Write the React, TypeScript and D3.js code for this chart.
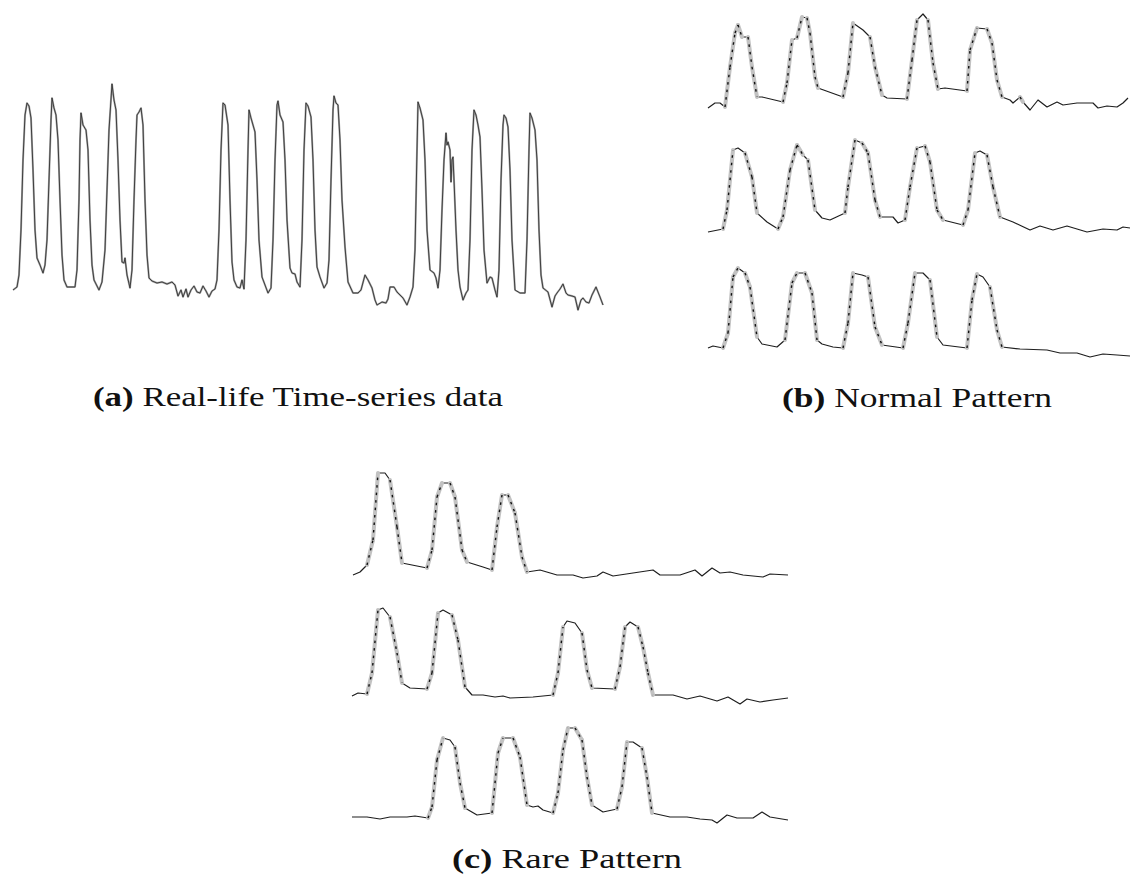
import React from "react";
import * as d3 from "d3";

type Pt = [number, number];

// (a) Real-life series: [time step, level]
const realLife: Pt[] = [
  [1,10],[5,13],[7,25],[9,70],[11,140],[13,185],[15,197],[17,194],[19,182],[21,130],[23,70],[25,42],[28,35],[31,27],[33,35],[35,60],[37,120],[39,180],[40,202],[42,192],[44,185],[46,160],[48,100],[50,45],[52,20],[55,13],[63,13],[65,30],[67,100],[68,160],[69,187],[71,175],[74,170],[76,150],[78,80],[80,35],[82,20],[87,10],[90,18],[93,50],[95,110],[97,170],[100,216],[102,200],[104,190],[106,140],[108,80],[110,38],[112,37],[113,42],[115,25],[118,12],[120,30],[122,100],[124,160],[125,185],[127,188],[129,192],[131,175],[133,100],[135,45],[137,22],[140,19],[145,17],[150,18],[155,16],[160,18],[163,15],[166,4],[169,10],[171,3],[174,11],[176,3],[179,10],[182,14],[185,8],[188,7],[191,14],[194,9],[197,3],[200,9],[203,11],[205,20],[207,70],[209,150],[211,197],[213,195],[216,175],[218,100],[220,38],[222,20],[225,13],[228,12],[230,20],[232,11],[234,60],[236,150],[237,190],[239,182],[241,175],[243,168],[245,120],[247,60],[250,23],[253,15],[256,7],[259,12],[261,60],[263,140],[265,195],[266,199],[268,185],[271,178],[273,140],[275,80],[278,32],[280,27],[283,26],[285,18],[288,13],[290,60],[292,150],[294,197],[296,194],[299,183],[301,140],[303,70],[305,33],[308,23],[312,12],[315,17],[317,40],[319,120],[321,190],[322,204],[324,197],[326,195],[328,160],[330,100],[333,53],[336,18],[341,7],[346,7],[349,10],[353,25],[356,20],[360,12],[363,0],[365,-5],[370,-2],[374,-3],[376,1],[378,13],[382,13],[385,8],[388,5],[391,2],[395,-5],[398,3],[401,13],[403,50],[405,150],[406,198],[408,192],[411,180],[413,140],[415,70],[418,30],[422,27],[424,22],[426,12],[428,30],[430,90],[432,140],[434,167],[435,155],[436,158],[438,150],[439,118],[440,140],[441,143],[442,120],[444,70],[446,30],[448,13],[451,0],[454,7],[456,10],[458,60],[460,150],[462,190],[464,185],[466,175],[468,163],[470,110],[472,50],[475,17],[478,23],[480,22],[483,10],[485,3],[487,30],[489,120],[491,175],[492,185],[494,182],[496,173],[498,130],[500,60],[503,10],[508,7],[513,7],[515,60],[517,150],[518,187],[520,182],[523,170],[525,140],[527,70],[529,25],[531,12],[536,8],[540,-7],[543,4],[545,7],[548,11],[551,16],[554,7],[556,5],[560,4],[563,3],[566,-10],[569,0],[571,2],[574,-2],[577,-3],[580,5],[584,13],[588,3],[591,-5],
];

// (b) Normal patterns
const normal1: Pt[] = [
  [0,2],[7,7],[12,7],[17,3],[22,43],[27,77],[30,85],[34,73],[40,73],[44,43],[49,13],[54,13],[75,8],[79,27],[84,70],[89,72],[94,93],[99,92],[102,77],[107,33],[110,22],[135,13],[140,37],[145,87],[155,80],[162,73],[167,43],[174,15],[179,12],[199,11],[204,50],[209,90],[215,96],[220,90],[225,47],[230,21],[237,22],[259,19],[262,60],[269,82],[279,81],[284,67],[289,30],[294,13],[302,10],[305,7],[312,13],[315,8],[322,0],[330,10],[339,3],[349,8],[355,5],[369,7],[385,7],[390,2],[399,4],[409,3],[415,7],[420,12],
];
const normal2: Pt[] = [
  [0,3],[15,6],[19,25],[25,85],[30,87],[37,82],[44,58],[49,22],[59,13],[70,6],[75,18],[82,65],[89,90],[95,80],[100,75],[107,25],[114,17],[122,15],[137,22],[140,48],[147,95],[154,92],[160,82],[167,35],[172,18],[185,18],[190,12],[197,15],[202,48],[209,87],[217,89],[222,73],[229,25],[235,15],[255,10],[260,25],[267,82],[272,84],[279,80],[285,48],[292,18],[305,13],[322,5],[332,9],[345,5],[359,9],[379,3],[395,6],[409,5],[415,8],[422,7],
];
const normal3: Pt[] = [
  [0,12],[5,14],[15,12],[20,27],[25,83],[30,92],[37,87],[42,73],[49,23],[54,16],[69,13],[77,20],[84,77],[89,87],[97,87],[104,67],[109,20],[114,16],[125,13],[135,12],[140,37],[145,87],[154,85],[160,83],[167,33],[174,15],[195,12],[200,37],[207,87],[215,87],[222,80],[229,23],[235,15],[259,12],[264,60],[269,86],[275,83],[282,73],[289,30],[294,13],[312,11],[339,10],[352,7],[369,7],[382,3],[395,6],[409,5],[422,4],
];

// (c) Rare patterns
const rare1: Pt[] = [
  [1,5],[8,8],[15,15],[21,40],[26,107],[33,107],[38,100],[45,53],[50,17],[75,12],[80,30],[85,83],[90,97],[98,97],[103,83],[110,30],[115,18],[131,13],[140,10],[145,53],[150,85],[156,85],[163,67],[170,23],[175,8],[188,10],[205,5],[221,5],[231,2],[245,4],[251,8],[261,4],[281,7],[301,10],[308,5],[328,5],[343,10],[350,4],[360,12],[368,7],[378,8],[391,5],[411,3],[418,6],[436,5],
];
const rare2: Pt[] = [
  [0,9],[6,12],[15,11],[20,32],[26,95],[31,97],[38,88],[45,52],[50,22],[58,17],[75,16],[80,32],[86,92],[91,95],[100,90],[106,65],[113,18],[120,10],[131,10],[143,8],[151,9],[158,7],[181,8],[201,10],[206,32],[211,78],[215,84],[223,82],[230,72],[235,35],[240,17],[263,16],[268,38],[273,78],[278,83],[286,78],[291,58],[296,32],[301,10],[321,10],[335,6],[348,9],[365,4],[376,8],[388,1],[395,6],[408,3],[421,5],[436,7],
];
const rare3: Pt[] = [
  [0,8],[15,8],[28,6],[38,8],[55,8],[63,9],[76,7],[80,18],[85,65],[91,87],[98,85],[103,78],[108,42],[113,17],[125,10],[140,12],[146,72],[151,87],[161,87],[168,68],[175,20],[181,18],[186,19],[191,15],[201,12],[206,32],[211,75],[216,97],[223,97],[230,85],[235,48],[240,20],[251,13],[265,16],[270,38],[275,83],[281,83],[290,77],[295,48],[300,12],[318,8],[335,8],[348,6],[360,5],[365,2],[375,10],[385,7],[401,7],[410,13],[418,8],[436,5],
];

const captions = [
  { tag: "(a)", text: " Real-life Time-series data", x: 298, y: 406, len: 410 },
  { tag: "(b)", text: " Normal Pattern", x: 917, y: 407, len: 270 },
  { tag: "(c)", text: " Rare Pattern", x: 567, y: 868, len: 230 },
];

const W = 1131;
const H = 883;

// Panel (a) scales
const xA = d3.scaleLinear().domain([0, 592]).range([12, 604]);
const yA = d3.scaleLinear().domain([0, 220]).range([300, 80]);

// Panel (b) scales: one shared x, one y per row
const xB = d3.scaleLinear().domain([0, 422]).range([708, 1130]);
const rowB = [110, 235, 360].map((b) => d3.scaleLinear().domain([0, 100]).range([b, b - 100]));

// Panel (c)
const xC = d3.scaleLinear().domain([0, 436]).range([352, 788]);
const rowC = [580, 705, 825].map((b) => d3.scaleLinear().domain([0, 100]).range([b, b - 100]));

function PatternLine({ data, x, y }: { data: Pt[]; x: d3.ScaleLinear<number, number>; y: d3.ScaleLinear<number, number> }) {
  const line = d3.line<Pt>().x((d) => x(d[0])).y((d) => y(d[1]));
  const steep: Pt[][] = [];
  for (let i = 1; i < data.length; i++) {
    const dx = Math.abs(x(data[i][0]) - x(data[i - 1][0]));
    const dy = Math.abs(y(data[i][1]) - y(data[i - 1][1]));
    if (dy > dx * 1.6) steep.push([data[i - 1], data[i]]);
  }
  return (
    <g fill="none" strokeLinejoin="round">
      <path d={line(data) || ""} stroke="#1e1e1e" strokeWidth={1.2} />
      {steep.map((s, i) => (
        <path key={"g" + i} d={line(s) || ""} stroke="#c2c2c2" strokeWidth={4} strokeLinecap="round" />
      ))}
      {steep.map((s, i) => (
        <path key={"k" + i} d={line(s) || ""} stroke="#111" strokeWidth={1.4} strokeDasharray="2.5,5" />
      ))}
    </g>
  );
}

export default function App() {
  const lineA = d3.line<Pt>().x((d) => xA(d[0])).y((d) => yA(d[1]));
  return (
    <svg width={W} height={H} style={{ position: "absolute", left: 0, top: 0, background: "#fff" }}>
      <rect width={W} height={H} fill="#fff" />
      <path d={lineA(realLife) || ""} fill="none" stroke="#a8a8a8" strokeWidth={2} strokeLinejoin="round" />
      <path d={lineA(realLife) || ""} fill="none" stroke="#333" strokeWidth={0.9} strokeLinejoin="round" />

      {[normal1, normal2, normal3].map((d, i) => (
        <PatternLine key={"b" + i} data={d} x={xB} y={rowB[i]} />
      ))}
      {[rare1, rare2, rare3].map((d, i) => (
        <PatternLine key={"c" + i} data={d} x={xC} y={rowC[i]} />
      ))}

      {captions.map((c) => (
        <text
          key={c.tag}
          x={c.x}
          y={c.y}
          textAnchor="middle"
          fontFamily="'Liberation Serif', serif"
          fontSize={27}
          fill="#111"
          textLength={c.len}
          lengthAdjust="spacingAndGlyphs"
        >
          <tspan fontWeight="bold">{c.tag}</tspan>
          <tspan>{c.text}</tspan>
        </text>
      ))}
    </svg>
  );
}
